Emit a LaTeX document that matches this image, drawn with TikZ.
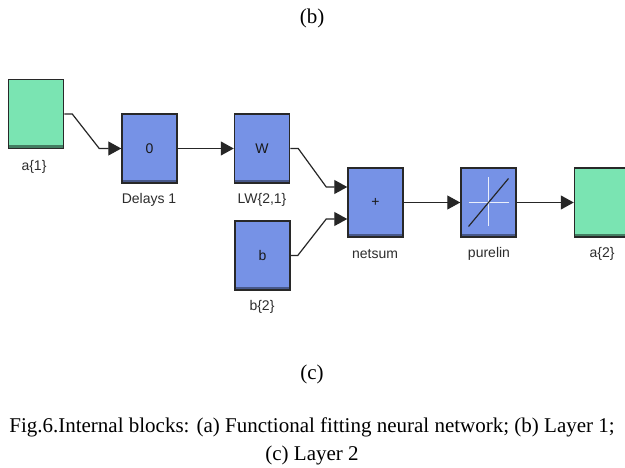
\documentclass[tikz,border=0pt]{standalone}
\usepackage{fontspec}
\setmainfont{Liberation Serif}
\newfontfamily\simfont{Liberation Sans}
\usetikzlibrary{arrows.meta}
\definecolor{blockblue}{RGB}{118,146,230}
\definecolor{blockgreen}{RGB}{122,228,178}
\definecolor{bordc}{RGB}{40,40,40}
\definecolor{labc}{RGB}{45,45,45}
\tikzset{
  blkbase/.style={draw=bordc, line width=1.5pt, minimum width=55pt, minimum height=69pt,
    inner sep=0pt, font=\simfont\fontsize{14}{16}\selectfont, text=black!90},
  blk/.style={blkbase, fill=blockblue,
    path picture={\fill[blockblue!60!black] ([yshift=3pt]path picture bounding box.south west) rectangle (path picture bounding box.south east);}},
  gblk/.style={blkbase, fill=blockgreen,
    path picture={\fill[blockgreen!55!black] ([yshift=3pt]path picture bounding box.south west) rectangle (path picture bounding box.south east);}},
  lab/.style={font=\simfont\fontsize{14}{16}\selectfont, text=labc, inner sep=0pt},
  conn/.style={draw=black!85, line width=1.2pt, -{Triangle[length=13pt,width=14pt]}},
  captxt/.style={font=\fontsize{21}{25}\selectfont, inner sep=0pt}
}
\begin{document}
\begin{tikzpicture}[x=1pt,y=-1pt]
\clip (0,0) rectangle (625,468);
\fill[white] (0,0) rectangle (625,468);

\node[captxt] (tb) at (312,18) {(b)};

\node[gblk] (a1) at (36,114) {};
\node[lab] (a1l) at (34,167) {a\{1\}};

\node[blk] (del) at (149.5,148.5) {0};
\node[lab] (dell) at (149,200) {Delays 1};

\node[blk] (lw) at (262,148.5) {W};
\node[lab] (lwl) at (262,200) {LW\{2,1\}};

\node[blk] (bb) at (262.5,255.5) {b};
\node[lab] (bbl) at (262,307) {b\{2\}};

\node[blk] (ns) at (375.5,202.5) {+};
\node[lab] (nsl) at (375,254) {netsum};

\node[blk] (pl) at (488.5,202.5) {};
\node[lab] (pll) at (489,254) {purelin};
\begin{scope}[shift={(pl.center)}]
  \draw[white!85!blockblue, line width=1.2pt] (0,-25) -- (0,24) (-20,0) -- (20,0);
  \draw[black!85, line width=1.2pt] (-20,24) -- (20,-24);
\end{scope}

\node[gblk] (a2) at (602,202.5) {};
\node[lab] (a2l) at (602,254) {a\{2\}};

\coordinate (in1) at ([yshift=15.5pt]ns.west);
\coordinate (in2) at ([yshift=-16.5pt]ns.west);

\draw[conn] (a1.east) -- ++(8,0) -- ([xshift=-22pt]del.west) -- (del.west);
\draw[conn] (del.east) -- (lw.west);
\draw[conn] (lw.east) -- ++(8,0) -- ([xshift=-21pt]in1) -- (in1);
\draw[conn] (bb.east) -- ++(7,0) -- ([xshift=-21pt]in2) -- (in2);
\draw[conn] (ns.east) -- (pl.west);
\draw[conn] (pl.east) -- (a2.west);

\node[captxt] (tc) at (312,374) {(c)};
\node[captxt] (c1) at (312,427) {Fig.6.Internal blocks: (a) Functional fitting neural network; (b) Layer 1;};
\node[captxt] (c2) at (312,455) {(c) Layer 2};
\end{tikzpicture}
\end{document}
